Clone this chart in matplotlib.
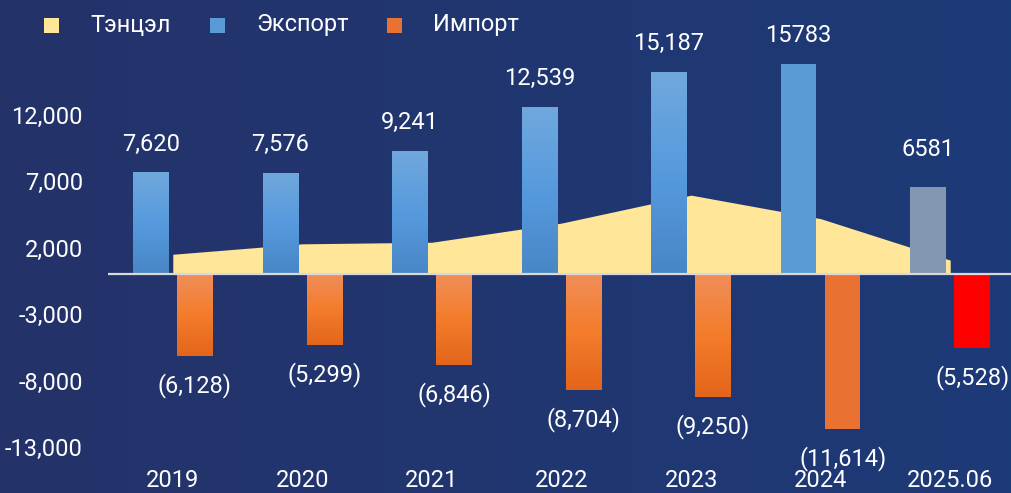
import numpy as np
import matplotlib
matplotlib.use("Agg")
import matplotlib.pyplot as plt
from matplotlib.colors import LinearSegmentedColormap
from matplotlib.patches import Rectangle

# data (сая ам.доллар)
years = ["2019", "2020", "2021", "2022", "2023", "2024", "2025.06"]
export = [7620, 7576, 9241, 12539, 15187, 15783, 6581]
imports = [6128, 5299, 6846, 8704, 9250, 11614, 5528]
balance = [1492, 2277, 2395, 3835, 5937, 4169, 1053]
export_lbl = ["7,620", "7,576", "9,241", "12,539", "15,187", "15783", "6581"]
import_lbl = ["(6,128)", "(5,299)", "(6,846)", "(8,704)", "(9,250)", "(11,614)", "(5,528)"]
yticks = [12000, 7000, 2000, -3000, -8000, -13000]
legend_names = ["Тэнцэл", "Экспорт", "Импорт"]

W, H = 1012, 493
plt.rcParams['font.family'] = ['Roboto', 'DejaVu Sans']
fig = plt.figure(figsize=(W / 100, H / 100), dpi=100)

# background gradient
bg = fig.add_axes([0, 0, 1, 1], zorder=-1)
bg_cmap = LinearSegmentedColormap.from_list("bg", ["#25326a", "#213670", "#1d3a78"])
bg.imshow(np.linspace(0, 1, 256)[None, :], cmap=bg_cmap, aspect='auto', extent=[0, 1, 0, 1])
bg.axis('off')

ax = fig.add_axes([108 / W, 1 - 447 / H, 907 / W, (447 - 48) / H])
ax.set_facecolor('none')

x = np.arange(len(years))
off, bw = 0.17, 0.275

# balance area
ax.fill_between(x, 0, balance, color="#ffe699", lw=0, zorder=1)

exp_colors = ["#5b9bd5"] * 6 + ["#8497b0"]
imp_colors = ["#e97132"] * 6 + ["#ff0000"]
eb = ax.bar(x - off, export, bw, color=exp_colors, zorder=2)
ib = ax.bar(x + off, [-v for v in imports], bw, color=imp_colors, zorder=2)

# gradient fills for 2019-2023
exp_cmap = LinearSegmentedColormap.from_list("e", ["#70a8dc", "#569ade", "#4886c6"])
imp_cmap = LinearSegmentedColormap.from_list("i", ["#f08e5a", "#f47c2a", "#e3651c"])
grad = np.linspace(0, 1, 256)[:, None]
for i in range(5):
    for r, cm in ((eb[i], exp_cmap), (ib[i], imp_cmap)):
        x0, y0 = r.get_x(), r.get_y()
        w, h = r.get_width(), r.get_height()
        ax.imshow(grad, cmap=cm, aspect='auto', zorder=3,
                  extent=[x0, x0 + w, min(y0, y0 + h), max(y0, y0 + h)])

ax.axhline(0, color="#d9d9d9", lw=1.6, zorder=4)

# data labels
for i in range(len(years)):
    up = 26.5 if i == 6 else 20.5
    ax.annotate(export_lbl[i], (x[i] - off, export[i]), xytext=(0, up),
                textcoords='offset points', ha='center', va='center',
                color='white', fontsize=17, zorder=5)
    ax.annotate(import_lbl[i], (x[i] + off, -imports[i]), xytext=(0, -21.5),
                textcoords='offset points', ha='center', va='center',
                color='white', fontsize=17, zorder=5)

ax.set_xlim(-0.5, 6.5)
ax.set_ylim(-13000, 17000)
ax.set_yticks(yticks)
ax.set_yticklabels([f"{v:,}" for v in yticks])
ax.set_xticks(x)
ax.set_xticklabels(years)
ax.tick_params(axis='y', length=0, pad=18, colors='white', labelsize=17)
ax.tick_params(axis='x', length=0, pad=16, colors='white', labelsize=17)
for s in ax.spines.values():
    s.set_visible(False)

# legend
leg_colors = ["#ffe699", "#5b9bd5", "#e97132"]
sq_x = [44, 210, 387]
tx_x = [90, 256, 433]
for name, c, sx, tx in zip(legend_names, leg_colors, sq_x, tx_x):
    fig.add_artist(Rectangle((sx / W, 1 - 33 / H), 15 / W, 15 / H,
                             transform=fig.transFigure, color=c, lw=0))
    fig.text(tx / W, 1 - 25 / H, name, color='white', fontsize=17,
             ha='left', va='center')

fig.savefig("out.png", dpi=100)
